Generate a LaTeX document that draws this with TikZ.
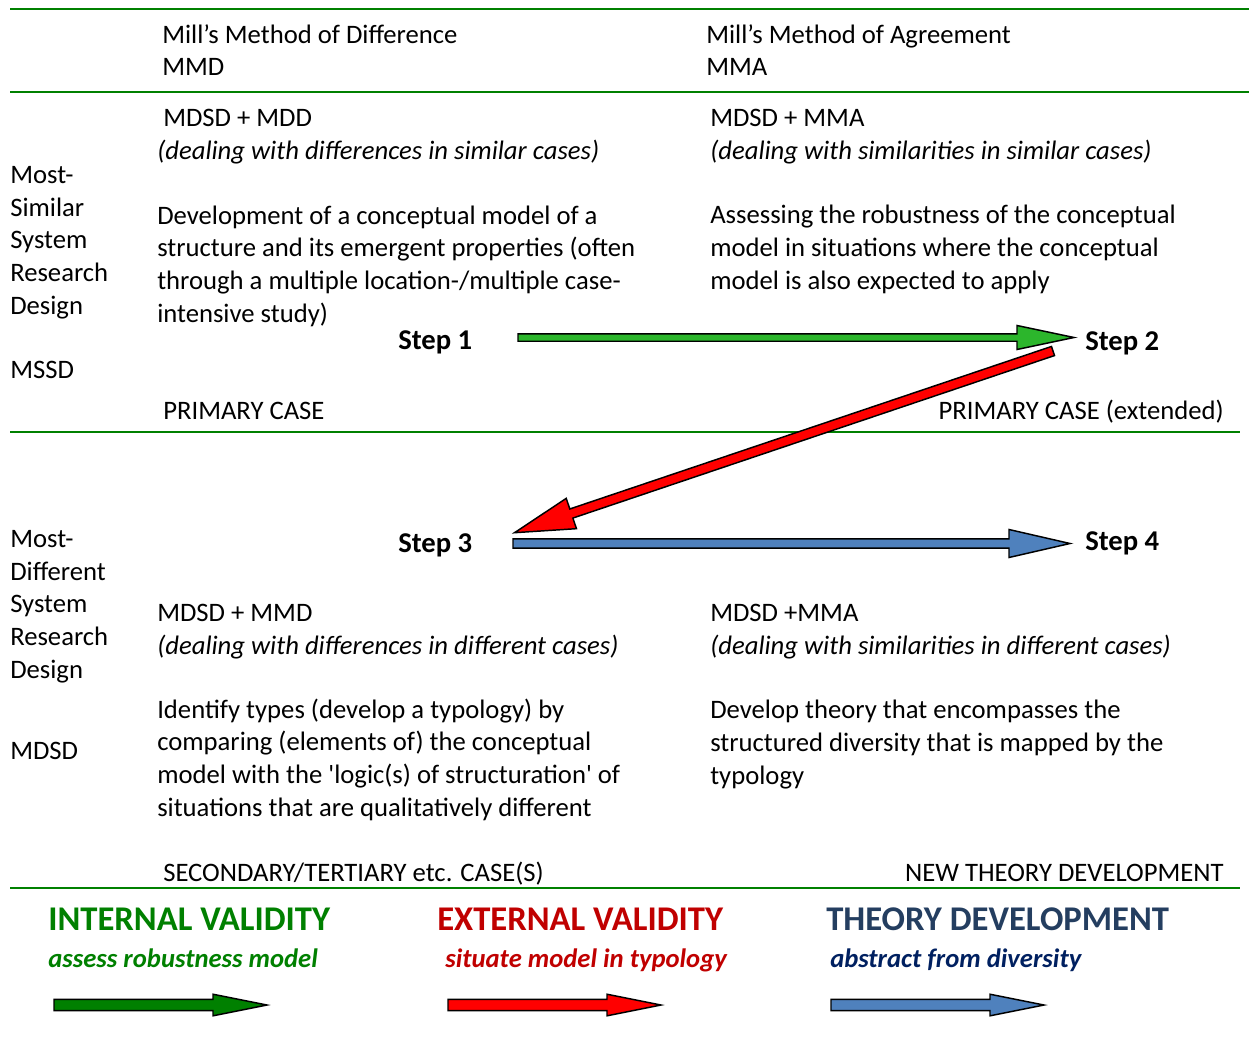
\documentclass[tikz,border=0pt]{standalone}
\usepackage{fontspec}
\setmainfont{Carlito}
\usetikzlibrary{calc}
\definecolor{lineg}{RGB}{0,128,0}
\definecolor{arrg}{RGB}{44,182,44}
\definecolor{arrgd}{RGB}{0,128,0}
\definecolor{arrr}{RGB}{255,0,0}
\definecolor{arrb}{RGB}{79,129,189}
\definecolor{txtg}{RGB}{0,128,0}
\definecolor{txtr}{RGB}{192,0,0}
\definecolor{txtb}{RGB}{36,62,96}
\definecolor{txtn}{RGB}{0,32,96}
\newcommand{\blkarrow}[6]{%
  \coordinate (ba-s) at (#1);
  \coordinate (ba-e) at (#2);
  \coordinate (ba-h) at ($(ba-e)!#5!(ba-s)$);
  \filldraw[fill=#6, draw=black, line width=1.1pt, line join=miter]
    ($(ba-s)!#3!90:(ba-e)$) -- ($(ba-h)!#3!90:(ba-e)$) -- ($(ba-h)!#4!90:(ba-e)$) -- (ba-e)
    -- ($(ba-h)!#4!-90:(ba-e)$) -- ($(ba-h)!#3!-90:(ba-e)$) -- ($(ba-s)!#3!-90:(ba-e)$) -- cycle;
}
\begin{document}
\begin{tikzpicture}[x=0.75pt,y=-0.75pt,
  txt/.style={anchor=base west, inner sep=0pt, align=left, font=\fontsize{20pt}{24.5pt}\selectfont},
  txtr/.style={txt, anchor=base east, align=right},
  stepl/.style={txt, font=\fontsize{21.5pt}{24.5pt}\selectfont\bfseries},
  head/.style={anchor=base west, inner sep=0pt, font=\fontsize{26pt}{28pt}\selectfont\bfseries},
  sub/.style={anchor=base west, inner sep=0pt, font=\fontsize{20pt}{22pt}\selectfont\bfseries\itshape},
  rule/.style={draw=lineg, line width=1.5pt},
  thinrule/.style={draw=lineg, line width=1.1pt}]
\useasboundingbox (0,0) rectangle (1249,1038);
% rules
\draw[rule] (10,9) -- (1249,9);
\draw[rule] (10,92) -- (1249,92);
\draw[thinrule] (10,432) -- (1240,432);
\draw[rule] (10,888) -- (1240,888);
% headers (multi-line nodes: base = baseline of last line)
\node[txt] (hmmd) at (162,76) {Mill’s Method of Difference\\MMD};
\node[txt] (hmma) at (706,76) {Mill’s Method of Agreement\\MMA};
% upper row
\node[txt] (lmssd) at (10,378) {Most-\\Similar\\System\\Research\\Design\\[23.5pt]MSSD};
\node[txt] (c11a) at (163,127) {MDSD + MDD};
\node[txt] (c11b) at (157,160) {\itshape (dealing with differences in similar cases)};
\node[txt] (c11c) at (157,322) {Development of a conceptual model of a\\structure and its emergent properties (often\\through a multiple location-/multiple case-\\intensive study)};
\node[txt] (c12a) at (710,127) {MDSD + MMA};
\node[txt] (c12b) at (710,160) {\itshape (dealing with similarities in similar cases)};
\node[txt] (c12c) at (710,289) {Assessing the robustness of the conceptual\\model in situations where the conceptual\\model is also expected to apply};
\node[stepl] (s1) at (398,349) {Step 1};
\node[stepl] (s2) at (1085,350) {Step 2};
\node[txt] (pc) at (163,419) {PRIMARY CASE};
\node[txtr] (pce) at (1224,419) {PRIMARY CASE (extended)};
% lower row
\node[txt] (lmdsd) at (10,759) {Most-\\Different\\System\\Research\\Design\\[36.2pt]MDSD};
\node[stepl] (s3) at (398,552) {Step 3};
\node[stepl] (s4) at (1085,550) {Step 4};
\node[txt] (c21a) at (157,621) {MDSD + MMD};
\node[txt] (c21b) at (157,654) {\itshape (dealing with differences in different cases)};
\node[txt] (c21c) at (157,816) {Identify types (develop a typology) by\\comparing (elements of) the conceptual\\model with the \textquotesingle logic(s) of structuration\textquotesingle{} of\\situations that are qualitatively different};
\node[txt] (c22a) at (710,621) {MDSD +MMA};
\node[txt] (c22b) at (710,654) {\itshape (dealing with similarities in different cases)};
\node[txt] (c22c) at (710,784) {Develop theory that encompasses the\\structured diversity that is mapped by the\\typology};
\node[txt] (sec) at (163,881) {SECONDARY/TERTIARY etc. CASE(S)};
\node[txtr] (ntd) at (1224,881) {NEW THEORY DEVELOPMENT};
% legend
\node[head, text=txtg] (liv) at (48,930) {INTERNAL VALIDITY};
\node[head, text=txtr] (lev) at (437,930) {EXTERNAL VALIDITY};
\node[head, text=txtb] (ltd) at (826,930) {THEORY DEVELOPMENT};
\node[sub, text=txtg] (siv) at (48,967) {assess robustness model};
\node[sub, text=txtr] (sev) at (445,967) {situate model in typology};
\node[sub, text=txtn] (std) at (830,967) {abstract from diversity};
% step arrows
\coordinate (a1s) at ($(s1.base west)+(120,-11.5)$);
\coordinate (a1e) at ($(s2.base west)+(-11,-12.5)$);
\blkarrow{a1s}{a1e}{2.8pt}{9pt}{42.75pt}{arrg}
\coordinate (a2s) at ($(s2.base west)+(-32,1)$);
\coordinate (a2e) at ($(s3.base west)+(116.5,-19.3)$);
\blkarrow{a2s}{a2e}{3.6pt}{12pt}{45pt}{arrr}
\coordinate (a3s) at ($(s3.base west)+(115,-8.5)$);
\coordinate (a3e) at ($(s4.base west)+(-15,-6.5)$);
\blkarrow{a3s}{a3e}{3.4pt}{10.5pt}{45.75pt}{arrb}
% legend arrows
\coordinate (b1s) at (54,1005); \coordinate (b1e) at (267,1005);
\blkarrow{b1s}{b1e}{4.2pt}{8.1pt}{40.5pt}{arrgd}
\coordinate (b2s) at (448,1005); \coordinate (b2e) at (661,1005);
\blkarrow{b2s}{b2e}{4.2pt}{8.1pt}{40.5pt}{arrr}
\coordinate (b3s) at (831,1005); \coordinate (b3e) at (1044,1005);
\blkarrow{b3s}{b3e}{4.2pt}{8.1pt}{40.5pt}{arrb}
\end{tikzpicture}
\end{document}
